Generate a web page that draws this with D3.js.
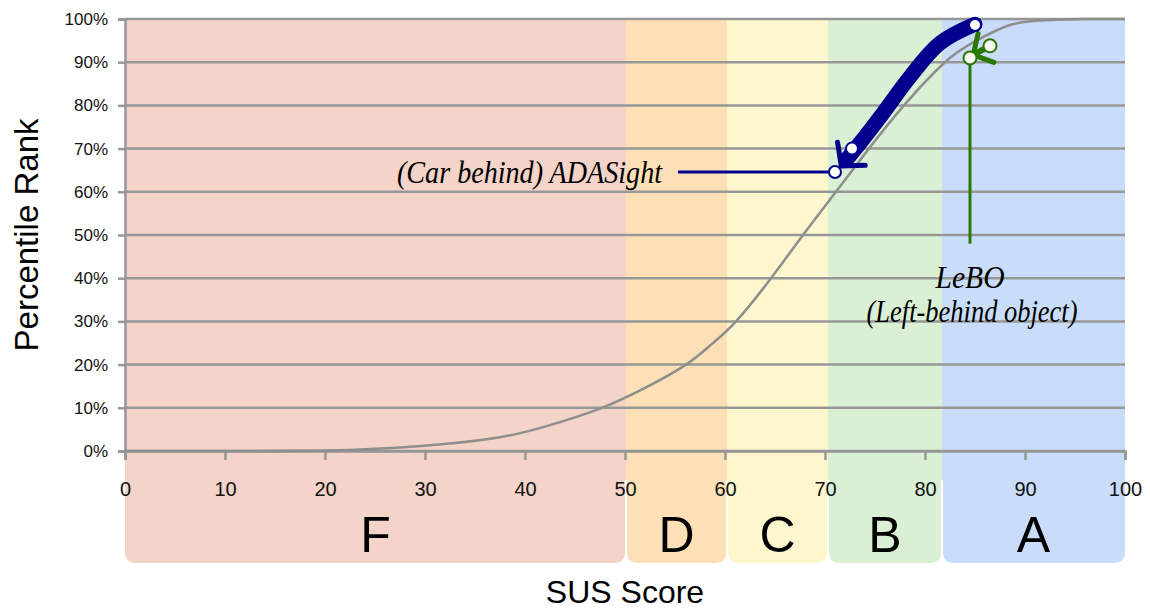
<!DOCTYPE html>
<html>
<head>
<meta charset="utf-8">
<script src="https://cdn.jsdelivr.net/npm/d3@7"></script>
<style>
  body { margin: 0; background: #fff; }
  svg { display: block; }
</style>
</head>
<body>
<svg id="chart"></svg>
<script>
// grade bands
var gradeNames = ["F", "D", "C", "B", "A"];
var gradeBounds = [0, 50.1, 60.2, 70.3, 81.7, 100];
var gradeColors = ["#f4d3c9", "#fde0b5", "#fef6cc", "#d9f0d4", "#c9ddfa"];

// tick labels
var xTicks = [0, 10, 20, 30, 40, 50, 60, 70, 80, 90, 100];
var yTicks = [0, 10, 20, 30, 40, 50, 60, 70, 80, 90, 100];

// percentile curve
var curveSus = [0, 10, 20, 25, 30.8, 37.5, 42.5, 47.7, 52, 56.1, 58.7, 61.1, 64.6, 67.8, 71.1, 74.4, 77.9, 82, 85, 88.5, 92, 96, 100];
var curvePct = [0, 0, 0.1, 0.5, 1.4, 3.2, 6, 10, 14.6, 20, 24.8, 30, 40, 50, 60, 70, 80, 90, 94.8, 98.6, 99.7, 100, 100];

// ADASight annotation
var adaSus = [85, 72.7, 71];
var adaPct = [98.6, 70, 64.6];
var adaArrowSus = [85, 81.5, 78.5, 75.8, 73.4, 72.2];
var adaArrowPct = [98.8, 94.4, 86.6, 78.2, 71, 67.6];
var adaLabelSus = 55.3;

// LeBO annotation
var leboSus = [84.5, 86.5];
var leboPct = [91, 93.8];
var leboArrowSus = [86.5, 85];
var leboArrowPct = [93.8, 91.9];
var leboStemEnd = 48;

var W = 1150, H = 609;
var margin = {left: 125, right: 25, top: 19, bottom: 158};
var width = W - margin.left - margin.right,
    height = H - margin.top - margin.bottom;

var svg = d3.select("#chart").attr("width", W).attr("height", H);
var g = svg.append("g").attr("transform", "translate(" + margin.left + "," + margin.top + ")");

var x = d3.scaleLinear().domain([0, 100]).range([0, width]);
var y = d3.scaleLinear().domain([0, 100]).range([height, 0]);

var grid = "#979797";
var navy = "#00008c";
var green = "#2b7800";

// bands with rounded bottom corners
var bandBottom = 544, r = 11;
g.append("g").selectAll("path")
  .data(gradeNames)
  .enter().append("path")
    .attr("fill", function(d, i) { return gradeColors[i]; })
    .attr("d", function(d, i) {
      var x0 = x(gradeBounds[i]) + 1, x1 = x(gradeBounds[i + 1]) - 1, y0 = -1;
      if (i == 0) x0 = x(0);
      if (i == gradeNames.length - 1) x1 = x(100);
      return "M" + x0 + "," + y0 + "H" + x1 + "V" + (bandBottom - r) +
        "Q" + x1 + "," + bandBottom + " " + (x1 - r) + "," + bandBottom +
        "H" + (x0 + r) + "Q" + x0 + "," + bandBottom + " " + x0 + "," + (bandBottom - r) + "Z";
    });
// fill the seams inside the plot area
g.append("g").selectAll("rect")
  .data(gradeNames)
  .enter().append("rect")
    .attr("x", function(d, i) { return x(gradeBounds[i]); })
    .attr("width", function(d, i) { return x(gradeBounds[i + 1]) - x(gradeBounds[i]); })
    .attr("y", -1)
    .attr("height", height + 30)
    .attr("fill", function(d, i) { return gradeColors[i]; });

g.append("g").selectAll("text")
  .data(gradeNames)
  .enter().append("text")
    .attr("x", function(d, i) { return x((gradeBounds[i] + gradeBounds[i + 1]) / 2); })
    .attr("y", 533)
    .attr("text-anchor", "middle")
    .style("font-family", "Liberation Sans, Arial, sans-serif")
    .style("font-size", "50px")
    .text(function(d) { return d; });

// gridlines
g.append("g").selectAll("line")
  .data(yTicks)
  .enter().append("line")
    .attr("x1", 0).attr("x2", width)
    .attr("y1", function(d) { return y(d); })
    .attr("y2", function(d) { return y(d); })
    .attr("stroke", grid).attr("stroke-width", 2.5);

// axes
var yAxis = g.append("g")
  .call(d3.axisLeft(y).tickValues(yTicks).tickSize(7).tickPadding(10)
    .tickFormat(function(d) { return d + "%"; }));
var xAxis = g.append("g")
  .attr("transform", "translate(0," + height + ")")
  .call(d3.axisBottom(x).tickValues(xTicks).tickSize(9).tickPadding(22));
[xAxis, yAxis].forEach(function(a) {
  a.select(".domain").attr("stroke", grid).attr("stroke-width", 2.5);
  a.selectAll(".tick line").attr("stroke", grid).attr("stroke-width", 2.5);
  a.selectAll("text").style("font-family", "Liberation Sans, Arial, sans-serif")
    .style("font-size", "17px").attr("fill", "#111");
});
xAxis.selectAll("text").style("font-size", "20px");

// percentile curve
var curveData = curveSus.map(function(s, i) { return [s, curvePct[i]]; });
g.append("path")
  .datum(curveData)
  .attr("fill", "none")
  .attr("stroke", "#8e8e8e")
  .attr("stroke-width", 2.5)
  .attr("d", d3.line()
    .x(function(d) { return x(d[0]); })
    .y(function(d) { return y(d[1]); })
    .curve(d3.curveNatural));

// arrow markers
var defs = svg.append("defs");
function marker(id, color, len, sw, ref) {
  defs.append("marker")
    .attr("id", id)
    .attr("markerUnits", "userSpaceOnUse")
    .attr("viewBox", "-40 -40 80 80")
    .attr("markerWidth", 80).attr("markerHeight", 80)
    .attr("refX", ref).attr("refY", 0)
    .attr("orient", "auto")
    .append("path")
      .attr("d", "M" + (-len * 0.66) + "," + (-len * 0.75) + "L0,0L" + (-len * 0.66) + "," + (len * 0.75))
      .attr("fill", "none")
      .attr("stroke", color)
      .attr("stroke-width", sw)
      .attr("stroke-linecap", "round")
      .attr("stroke-linejoin", "round");
}
marker("navyHead", navy, 24, 5, -9);
marker("greenHead", green, 22, 5, -2);

// ADASight label line
g.append("line")
  .attr("x1", x(adaLabelSus)).attr("x2", x(adaSus[2]))
  .attr("y1", y(adaPct[2])).attr("y2", y(adaPct[2]))
  .attr("stroke", navy).attr("stroke-width", 3);

g.append("path")
  .datum(adaArrowSus.map(function(s, i) { return [s, adaArrowPct[i]]; }))
  .attr("fill", "none")
  .attr("stroke", navy)
  .attr("stroke-width", 15)
  .attr("stroke-linecap", "round")
  .attr("marker-end", "url(#navyHead)")
  .attr("d", d3.line()
    .x(function(d) { return x(d[0]); })
    .y(function(d) { return y(d[1]); })
    .curve(d3.curveCatmullRom.alpha(0.5)));

// LeBO stem
g.append("line")
  .attr("x1", x(leboSus[0])).attr("x2", x(leboSus[0]))
  .attr("y1", y(leboPct[0])).attr("y2", y(leboStemEnd))
  .attr("stroke", green).attr("stroke-width", 3);

g.append("path")
  .datum(leboArrowSus.map(function(s, i) { return [s, leboArrowPct[i]]; }))
  .attr("fill", "none")
  .attr("stroke", green)
  .attr("stroke-width", 6)
  .attr("marker-end", "url(#greenHead)")
  .attr("d", d3.line()
    .x(function(d) { return x(d[0]); })
    .y(function(d) { return y(d[1]); }));

// points
g.append("g").selectAll("circle")
  .data(adaSus)
  .enter().append("circle")
    .attr("cx", function(d) { return x(d); })
    .attr("cy", function(d, i) { return y(adaPct[i]); })
    .attr("r", 6)
    .attr("fill", "#fff").attr("stroke", navy).attr("stroke-width", 2);
g.append("g").selectAll("circle")
  .data(leboSus)
  .enter().append("circle")
    .attr("cx", function(d) { return x(d); })
    .attr("cy", function(d, i) { return y(leboPct[i]); })
    .attr("r", 6.5)
    .attr("fill", "#fff").attr("stroke", green).attr("stroke-width", 2);

// annotation texts
var serif = "Liberation Serif, Times New Roman, serif";
function note(txt, xp, yp, anchor, len) {
  g.append("text")
    .attr("x", xp).attr("y", yp)
    .attr("text-anchor", anchor)
    .attr("textLength", len)
    .attr("lengthAdjust", "spacingAndGlyphs")
    .style("font-family", serif).style("font-style", "italic")
    .style("font-size", "31px")
    .text(txt);
}
note("(Car behind) ADASight", x(adaLabelSus) - 16, y(adaPct[2]) + 11, "end", 265);
note("LeBO", x(leboSus[0]), 288 - margin.top, "middle", 69);
note("(Left-behind object)", x(leboSus[0]) + 2, 322 - margin.top, "middle", 211);

// axis titles
svg.append("text")
  .attr("x", margin.left + width / 2)
  .attr("y", 603)
  .attr("text-anchor", "middle")
  .style("font-family", "Liberation Sans, Arial, sans-serif")
  .style("font-size", "32px")
  .text("SUS Score");
svg.append("text")
  .attr("transform", "translate(38," + (margin.top + height / 2) + ") rotate(-90)")
  .attr("text-anchor", "middle")
  .style("font-family", "Liberation Sans, Arial, sans-serif")
  .style("font-size", "33px")
  .text("Percentile Rank");
</script>
</body>
</html>
